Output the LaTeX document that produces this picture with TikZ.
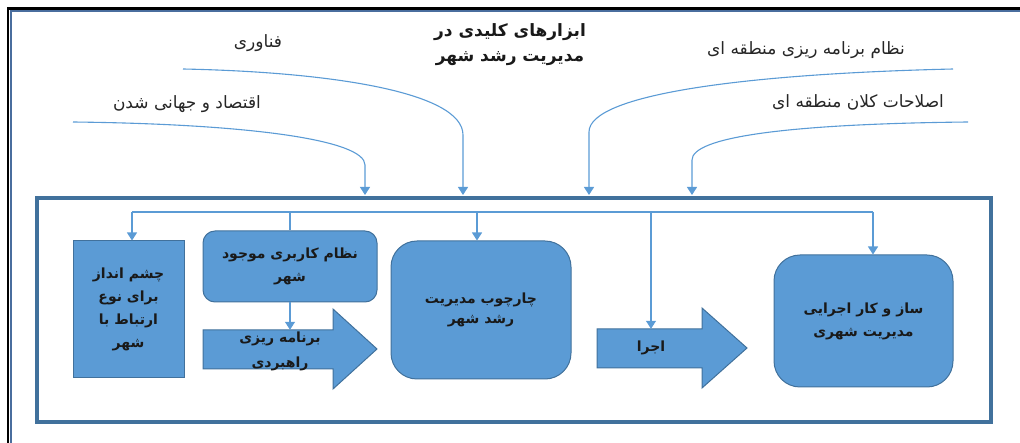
\documentclass[tikz,border=0pt]{standalone}
\usepackage{fontspec}
\usetikzlibrary{arrows.meta}
\newfontfamily\arabicfont[Script=Arabic]{DejaVu Sans}
\TeXXeTstate=1
\definecolor{boxfill}{HTML}{5B9BD5}
\definecolor{boxedge}{HTML}{41719C}
\definecolor{frameblue}{HTML}{41719C}
\definecolor{outerblue}{HTML}{4A6E9E}
\tikzset{
  flow/.style={draw=boxfill, line width=1.1pt},
  flowarrow/.style={flow, -{Triangle[width=10pt,length=8pt]}},
  boxbase/.style={fill=boxfill, draw=boxedge, line width=1pt, inner sep=0pt, align=center,
     font=\arabicfont\bfseries\fontsize{14}{23}\selectfont, text=black!90},
  rectbox/.style={boxbase},
  roundbox/.style={boxbase, rounded corners=#1},
  bodybox/.style={inner sep=0pt, align=center, font=\arabicfont\bfseries\fontsize{14}{25}\selectfont, text=black!90},
  bigarrow/.style={fill=boxfill, draw=boxedge, line width=1pt},
  label/.style={font=\arabicfont\fontsize{17}{20}\selectfont, text=black!85},
  titlelabel/.style={font=\arabicfont\bfseries\fontsize{17}{25}\selectfont, align=center, text=black!90},
}
\begin{document}
\begin{tikzpicture}[x=1pt,y=-1pt]
\useasboundingbox (0,0) rectangle (1020,443);
% outer frame (top and left only)
\draw[black, line width=2.5pt] (8,443) -- (8,8.5) -- (1020,8.5);
\draw[outerblue, line width=2.5pt] (11,443) -- (11,11) -- (1020,11);
% inner frame
\draw[frameblue, line width=3.5pt] (37,198) rectangle (991,422);

% title and labels
\node[titlelabel] (title) at (510,45) {\beginR ابزارهای کلیدی در\endR\\\beginR مدیریت رشد شهر\endR};
\node[label] (l1) at (258,43) {\beginR فناوری\endR};
\node[label] (l2) at (187,104) {\beginR اقتصاد و جهانی شدن\endR};
\node[label] (l3) at (806,50) {\beginR نظام برنامه ریزی منطقه ای\endR};
\node[label] (l4) at (858,102) {\beginR اصلاحات کلان منطقه ای\endR};

% entry points of the curves
\coordinate (s1) at (183,69);
\coordinate (s2) at (73,122);
\coordinate (s3) at (953,69);
\coordinate (s4) at (968,122);
\coordinate (e1) at (463,195);
\coordinate (e2) at (365,195);
\coordinate (e3) at (589,195);
\coordinate (e4) at (692,195);

\draw[flowarrow] (s1) .. controls (330,72) and (463,92) .. (463,135) -- (e1);
\draw[flowarrow] (s2) .. controls (250,124) and (365,140) .. (365,165) -- (e2);
\draw[flowarrow] (s3) .. controls (740,74) and (589,95) .. (589,132) -- (e3);
\draw[flowarrow] (s4) .. controls (780,124) and (692,138) .. (692,160) -- (e4);

% boxes
\node[rectbox, minimum width=111pt, minimum height=137pt] (A) at (128.5,309.5)
  {\beginR چشم انداز\endR\\\beginR برای نوع\endR\\\beginR ارتباط با\endR\\\beginR شهر\endR};
\node[roundbox=12pt, minimum width=174pt, minimum height=71pt] (B) at (290,266.5)
  {\beginR نظام کاربری موجود\endR\\\beginR شهر\endR};
\node[roundbox=26pt, minimum width=180pt, minimum height=138pt] (C) at (481,310)
  {\beginR چارچوب مدیریت\endR\\[-3pt]\beginR رشد شهر\endR};
\node[roundbox=26pt, minimum width=179pt, minimum height=132pt] (D) at (863.5,321)
  {\beginR ساز و کار اجرایی\endR\\\beginR مدیریت شهری\endR};

% big arrows
\path[bigarrow] (203,330) -- (333,330) -- (333,309) -- (377,349) -- (333,389) -- (333,369) -- (203,369) -- cycle;
\node[bodybox, minimum width=130pt, minimum height=39pt] (P) at (268,349.5) {};
\node[bodybox] (Ptext) at (280,351) {\beginR برنامه ریزی\endR\\\beginR راهبردی\endR};
\path[bigarrow] (597,329) -- (702,329) -- (702,308) -- (747,348) -- (702,388) -- (702,368) -- (597,368) -- cycle;
\node[bodybox, minimum width=105pt, minimum height=39pt] (E) at (649.5,348.5) {};
\node[bodybox] (Etext) at (651,348) {\beginR اجرا\endR};

% distribution line
\coordinate (d1) at (132,212);
\coordinate (d2) at (290,212);
\coordinate (d3) at (477,212);
\coordinate (d4) at (651,212);
\coordinate (d5) at (873,212);
\draw[flow] (d1) -- (d5);
\draw[flowarrow] (d1) -- (d1 |- A.north);
\draw[flow] (d2) -- (d2 |- B.north);
\draw[flowarrow] (d3) -- (d3 |- C.north);
\draw[flowarrow] (d4) -- (d4 |- E.north);
\draw[flowarrow] (d5) -- (d5 |- D.north);
\draw[flowarrow] (B.south) -- (B.south |- P.north);
\end{tikzpicture}
\end{document}
